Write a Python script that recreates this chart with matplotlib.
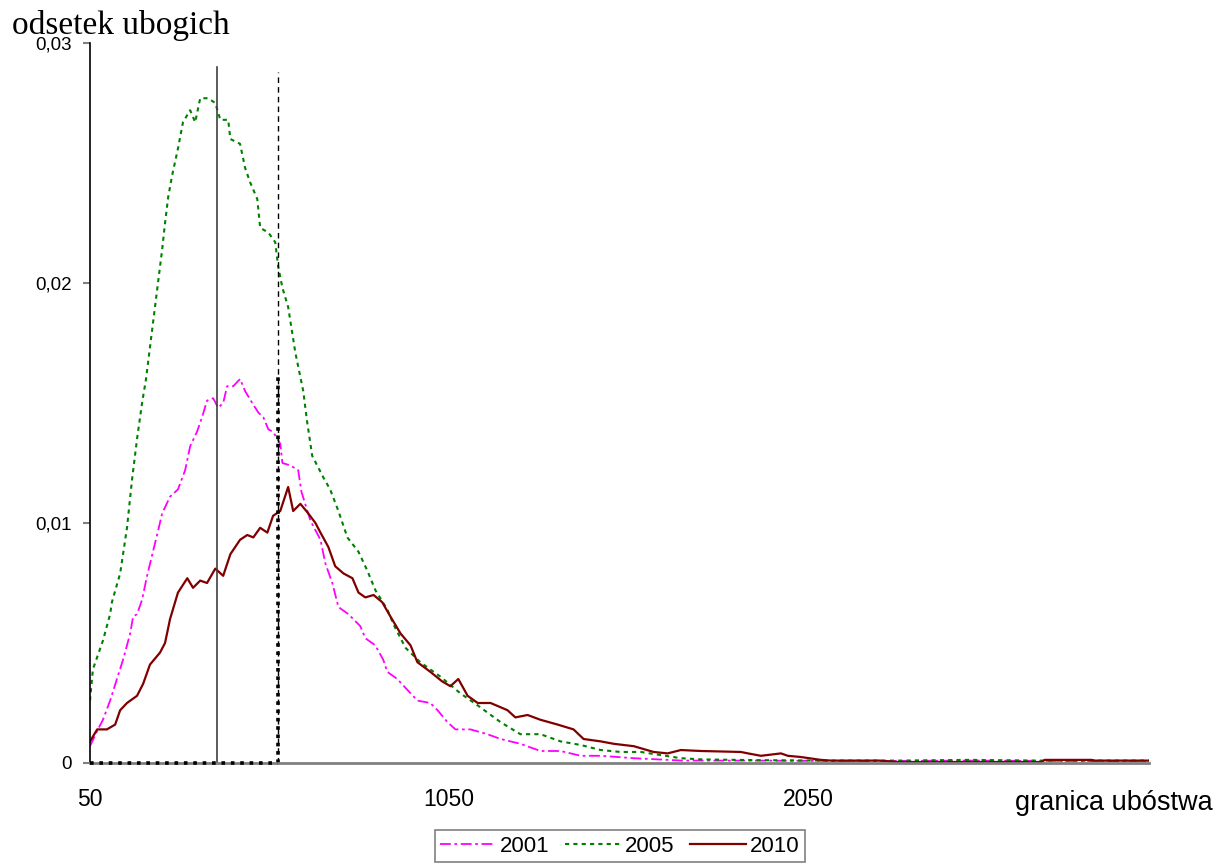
import matplotlib
matplotlib.use("Agg")
import matplotlib.pyplot as plt
from matplotlib.ticker import FuncFormatter

# poverty line (x) and share of poor (y)
x2001 = [50, 72, 86, 106, 125, 142, 162, 170, 181, 195, 209, 240, 251, 273, 295,
         315, 329, 348, 362, 376, 393, 407, 421, 432, 449, 468, 482, 502, 519,
         533, 547, 560, 580, 586, 608, 630, 639, 664, 692, 706, 725, 742, 770,
         803, 817, 845, 867, 878, 906, 937, 962, 998, 1018, 1046, 1068, 1110,
         1157, 1194, 1249, 1305, 1361, 1417, 1473, 1565, 1700, 1900, 2200, 2500,
         2800, 3000]
y2001 = [0.0007, 0.0014, 0.0018, 0.0026, 0.0035, 0.0043, 0.0054, 0.0061, 0.0062,
         0.0068, 0.0078, 0.0097, 0.0104, 0.0111, 0.0114, 0.0122, 0.0132, 0.0138,
         0.0144, 0.0151, 0.0152, 0.0148, 0.0150, 0.0157, 0.0157, 0.0160, 0.0155,
         0.0150, 0.0146, 0.0144, 0.0139, 0.0138, 0.0133, 0.0125, 0.0124, 0.0122,
         0.0113, 0.0101, 0.0093, 0.0083, 0.0075, 0.0065, 0.0062, 0.0057, 0.0052,
         0.0049, 0.0043, 0.0038, 0.0035, 0.0030, 0.0026, 0.0025, 0.0022, 0.0017,
         0.0014, 0.0014, 0.0012, 0.0010, 0.0008, 0.0005, 0.0005, 0.0003, 0.0003,
         0.0002, 0.0001, 0.0001, 0.00008, 0.0001, 0.00008, 0.00008]

x2005 = [50, 58, 86, 106, 111, 134, 153, 167, 181, 195, 206, 231, 251, 259, 268,
         279, 295, 309, 329, 343, 357, 379, 399, 413, 435, 441, 468, 482, 496,
         516, 524, 547, 566, 574, 586, 602, 622, 644, 655, 669, 700, 719, 742,
         767, 798, 823, 845, 878, 898, 929, 970, 1026, 1082, 1130, 1194, 1249,
         1305, 1361, 1417, 1473, 1528, 1584, 1640, 1696, 1752, 1900, 2100, 2300,
         2500, 2700, 2900, 3000]
y2005 = [0.0026, 0.0039, 0.0051, 0.0062, 0.0067, 0.0079, 0.0098, 0.0118, 0.0135,
         0.0150, 0.0160, 0.0190, 0.0214, 0.0225, 0.0236, 0.0245, 0.0256, 0.0267,
         0.0272, 0.0267, 0.0277, 0.0277, 0.0275, 0.0268, 0.0268, 0.0260, 0.0258,
         0.0248, 0.0242, 0.0235, 0.0223, 0.0221, 0.0217, 0.0207, 0.0198, 0.0190,
         0.0171, 0.0155, 0.0142, 0.0128, 0.0119, 0.0114, 0.0105, 0.0094, 0.0088,
         0.0080, 0.0072, 0.0064, 0.0057, 0.0048, 0.0042, 0.0036, 0.0029, 0.0024,
         0.0017, 0.0012, 0.0012, 0.0009, 0.00075, 0.00054, 0.00046, 0.00046,
         0.00033, 0.0002, 0.00015, 0.00012, 0.0001, 0.0001, 0.00013, 0.0001,
         0.0001, 0.0001]

x2010 = [50, 70, 97, 120, 134, 153, 181, 198, 217, 245, 259, 273, 295, 321, 337,
         357, 376, 399, 421, 441, 468, 488, 505, 524, 544, 560, 580, 602, 616,
         636, 658, 678, 692, 714, 733, 756, 781, 798, 817, 840, 864, 887, 915,
         943, 962, 998, 1031, 1054, 1076, 1102, 1130, 1166, 1213, 1235, 1269,
         1305, 1353, 1397, 1425, 1473, 1509, 1565, 1620, 1659, 1696, 1752, 1863,
         1883, 1919, 1975, 1994, 2030, 2086, 2114, 2250, 2300, 2700, 2710, 2840,
         2850, 3000]
y2010 = [0.0009, 0.0014, 0.0014, 0.0016, 0.0022, 0.0025, 0.0028, 0.0033, 0.0041,
         0.0046, 0.0050, 0.0060, 0.0071, 0.0077, 0.0073, 0.0076, 0.0075, 0.0081,
         0.0078, 0.0087, 0.0093, 0.0095, 0.0094, 0.0098, 0.0096, 0.0103, 0.0105,
         0.0115, 0.0105, 0.0108, 0.0104, 0.0100, 0.0096, 0.0090, 0.0082, 0.0079,
         0.0077, 0.0071, 0.0069, 0.0070, 0.0067, 0.0061, 0.0054, 0.0049, 0.0042,
         0.0038, 0.0034, 0.0032, 0.0035, 0.0028, 0.0025, 0.0025, 0.0022, 0.0019,
         0.0020, 0.0018, 0.0016, 0.0014, 0.0010, 0.0009, 0.0008, 0.0007, 0.00046,
         0.0004, 0.00054, 0.0005, 0.00046, 0.0004, 0.0003, 0.0004, 0.0003,
         0.00025, 0.00013, 0.0001, 0.0001, 0.00004, 0.00004, 0.00013, 0.00013,
         0.0001, 0.0001]

# reference lines
line_solid_x = 404
line_solid_top = 0.0290
line_dash_x = 574
line_dash_top = 0.0288
drop_top = 0.0161

fig = plt.figure(figsize=(12.18, 8.64), dpi=100)
ax = fig.add_axes([0.0739, 0.1169, 0.8694, 0.8333])

ax.plot(x2001, y2001, color='#FF00FF', lw=1.3, ls=(0, (6, 2, 1.5, 2)), label='2001')
ax.plot(x2005, y2005, color='#008000', lw=1.5, ls=(0, (2, 2)), label='2005')
ax.plot(x2010, y2010, color='#800000', lw=1.6, label='2010')

ax.plot([line_solid_x, line_solid_x], [0, line_solid_top], color='#404040', lw=1.2)
ax.plot([line_dash_x, line_dash_x], [0, line_dash_top], color='black', lw=1.0, ls=(0, (4, 3)))
ax.plot([line_dash_x, line_dash_x], [0, drop_top], color='black', lw=2.6, ls=(0, (1, 1.3)))
ax.plot([50, line_dash_x], [0, 0], color='black', lw=2.6, ls=(0, (1, 1.6)), zorder=5, clip_on=False)

ax.set_xlim(50, 3000)
ax.set_ylim(0, 0.03)
ax.set_xticks([50, 1050, 2050])
ax.set_yticks([0, 0.01, 0.02, 0.03])
ax.yaxis.set_major_formatter(FuncFormatter(lambda v, p: '0' if v == 0 else f'{v:.2f}'.replace('.', ',')))

for s in ['top', 'right']:
    ax.spines[s].set_visible(False)
ax.spines['left'].set_color('black')
ax.spines['left'].set_linewidth(1.2)
ax.spines['bottom'].set_color('#808080')
ax.spines['bottom'].set_linewidth(2.0)

ax.tick_params(axis='x', length=0, pad=18, labelsize=16.5, labelfontfamily='Liberation Sans')
ax.tick_params(axis='y', length=5, width=1.5, color='#808080', pad=8, labelsize=13.5,
               labelfontfamily='Liberation Sans')

fig.text(0.0099, 0.9606, 'odsetek ubogich', fontsize=24, family='Liberation Serif', va='baseline', ha='left')
fig.text(0.996, 0.0625, 'granica ubóstwa', fontsize=19.5, family='Liberation Sans', va='baseline', ha='right')

leg = ax.legend(loc='upper center', bbox_to_anchor=(620 / 1218, 1 - 830 / 864), bbox_transform=fig.transFigure,
                ncol=3, prop={'family': 'Liberation Sans', 'size': 16}, frameon=True, fancybox=False,
                handlelength=2.5, handletextpad=0.2, columnspacing=0.7, borderpad=0.25, borderaxespad=0)
leg.get_frame().set_edgecolor('#606060')
leg.get_frame().set_linewidth(1.2)

fig.savefig('out.png', dpi=100)
